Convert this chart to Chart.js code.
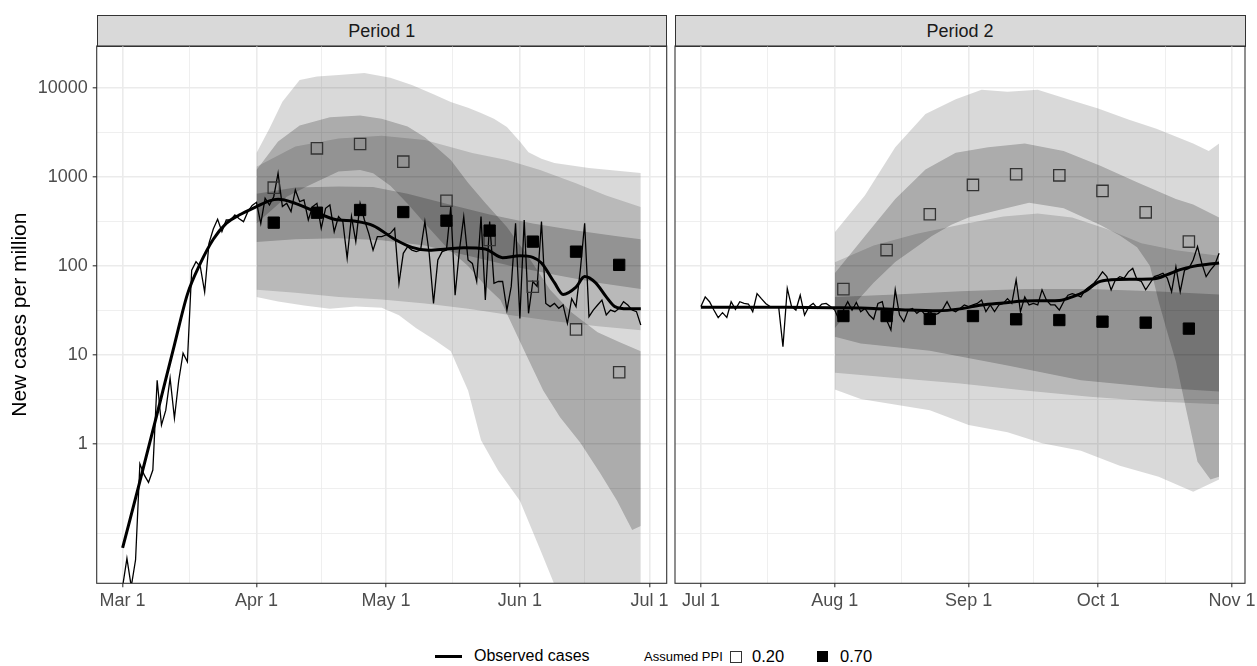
<!DOCTYPE html>
<html>
<head>
<meta charset="utf-8">
<script src="https://cdn.jsdelivr.net/npm/chart.js"></script>
<style>
  body { margin: 0; background: #fff; font-family: "Liberation Sans", Arial, sans-serif; }
  #wrap { position: relative; width: 1257px; height: 666px; overflow: hidden; background: #fff; }
  canvas { position: absolute; top: 0; }
  .strip { position: absolute; top: 15px; height: 32px; box-sizing: border-box; background: #D9D9D9;
           border: 1.1px solid #333; color: #1A1A1A; font-size: 18px; text-align: center; line-height: 30px; }
  .lg { position: absolute; white-space: nowrap; color: #000; }
</style>
</head>
<body>
<div id="wrap">
  <div class="strip" style="left:96.5px;width:570.7px">Period 1</div>
  <div class="strip" style="left:674.5px;width:571px">Period 2</div>
  <canvas id="c1" width="672" height="630" style="left:0"></canvas>
  <canvas id="c2" width="585" height="630" style="left:672px"></canvas>

  <div class="lg" style="left:435px;top:655px;width:27px;height:3px;background:#000"></div>
  <div class="lg" style="left:474px;top:647px;font-size:16px">Observed cases</div>
  <div class="lg" style="left:644px;top:649px;font-size:13px">Assumed PPI</div>
  <div class="lg" style="left:730px;top:651px;width:10px;height:10px;border:1.3px solid #333"></div>
  <div class="lg" style="left:752px;top:647px;font-size:16.5px">0.20</div>
  <div class="lg" style="left:817px;top:651px;width:11px;height:11px;background:#000"></div>
  <div class="lg" style="left:840px;top:647px;font-size:16.5px">0.70</div>
</div>

<script>
// log axis
const yMin = Math.pow(10, -1.565);
const yMax = Math.pow(10, 4.472);
const yMajor = [1, 10, 100, 1000, 10000];
const yMinor = [0.1, Math.pow(10, -0.5), Math.pow(10, 0.5), Math.pow(10, 1.5), Math.pow(10, 2.5), Math.pow(10, 3.5)];

// Period 1: day 0 = Mar 1
const p1Ticks = [0, 31, 61, 92, 122];
const p1TickLabels = ["Mar 1", "Apr 1", "May 1", "Jun 1", "Jul 1"];
const p1Minor = [15.5, 46, 76.5, 107];

const p1Observed = [0.025, 0.052, 0.025, 0.05, 0.6, 0.45, 0.37, 0.51, 5.2, 1.63,
  2.4, 5.5, 1.95, 5.2, 10.5, 8.4, 90, 112, 98, 51,
  180, 260, 335, 243, 329, 329, 374, 340, 315, 408,
  480, 520, 300, 576, 485, 601, 1101, 465, 506, 408,
  715, 529, 552, 329, 465, 506, 265, 445, 485, 243,
  359, 316, 122, 359, 188, 506, 329, 233, 151, 214,
  214, 223, 233, 265, 64, 139, 165, 151, 145, 151,
  316, 139, 38, 117, 145, 151, 465, 47, 151, 359,
  117, 107, 67, 359, 41.5, 316, 64, 67, 67, 32,
  59, 302, 25.8, 329, 29.4, 67, 59, 316, 38, 35,
  38, 33.5, 36.5, 22.7, 43, 35, 90, 302, 27, 32,
  36.5, 41.5, 28.2, 32, 30.7, 33.5, 39.8, 36.5, 32, 30.7, 21.7];

const p1SmoothDays = [0, 4, 8, 12, 15, 18, 21, 24, 27, 31, 34, 36, 40, 44, 49, 54, 58, 63, 67, 71, 75, 79, 84, 88, 92, 95, 97, 100, 102, 105, 107, 109.5, 112, 114, 117, 120];
const p1Smooth = [0.068, 0.38, 2.2, 13, 48, 107, 200, 302, 374, 465, 540, 561, 506, 420, 335, 318, 285, 200, 162, 150, 155, 160, 155, 124, 130, 125, 108, 65, 48, 58, 76, 65, 45, 35, 33, 33];

const p1PointDays = [35, 45, 55, 65, 75, 85, 95, 105, 115];
const p1Ppi20 = [759, 2100, 2350, 1487, 542, 196, 58.5, 19.4, 6.4];
const p1Ppi70 = [307, 397, 426, 404, 323, 250, 188, 145, 103];

const p1Out20Hi = [[31,1860],[34,3500],[37,7000],[41,12300],[45,13500],[50,14000],[56,14700],[62,13000],[67,10800],[72,8500],[76,6960],[80,6000],[83,5240],[86,4500],[89,3650],[92,2500],[94,1900],[97,1600],[100,1435],[104,1350],[108,1260],[114,1180],[120,1110]];
const p1Out20Lo = [[31,45],[36,40],[42,36],[48,33],[54,35],[60,34],[64,28],[68,20],[72,15],[76,11],[80,4],[83,1.1],[87,0.5],[92,0.23],[97,0.06],[101,0.02],[120,0.005]];
const p1In20Hi = [[31,1200],[36,2500],[41,3800],[48,4700],[55,4900],[60,4500],[66,3700],[70,2800],[76,1550],[80,860],[84,510],[89,275],[94,126],[99,54],[104,30],[110,18],[115,14],[120,11]];
const p1In20Lo = [[31,300],[38,600],[43,800],[50,1150],[55,1200],[58,1100],[62,800],[66,500],[70,300],[75,163],[80,100],[84,60],[87.5,41.5],[93.7,9.5],[97.4,4.0],[101.3,2.0],[106,1.03],[110.6,0.47],[114.5,0.23],[118,0.108],[120,0.12]];
const p1Out70Hi = [[31,1300],[40,2200],[50,2700],[60,2900],[70,2600],[81,1860],[89,1550],[96.7,1200],[105,850],[112,620],[120,460]];
const p1Out70Lo = [[31,54],[40,50],[50,45],[60,42],[70,38],[80,33],[90,28],[100,24],[110,21],[120,19]];
const p1In70Hi = [[31,650],[40,760],[50,780],[58,770],[66,650],[75,500],[85,380],[95,300],[105,250],[115,215],[120,200]];
const p1In70Lo = [[31,186],[40,200],[50,205],[60,195],[70,170],[80,130],[90,100],[100,80],[110,65],[120,55]];

// Period 2: day 0 = Jul 1
const p2Ticks = [0, 31, 62, 92, 123];
const p2TickLabels = ["Jul 1", "Aug 1", "Sep 1", "Oct 1", "Nov 1"];
const p2Minor = [15.5, 46.5, 77, 107.5];

const p2Observed = [35, 45, 39.7, 32, 26.3, 29.9, 26.5, 39.7, 32.6, 39.7,
  38, 37.4, 30.7, 49, 43, 38, 35, 35, 35, 12.4,
  56, 35, 32, 47, 28.1, 35, 38, 33.4, 37.4, 38,
  35, 32, 24.7, 32, 39.7, 32, 39, 30.7, 33.4, 28.1,
  25.2, 38, 39.7, 24.7, 19.1, 54, 28.1, 23.7, 32, 33.4,
  29.4, 32, 28.1, 30.7, 28.1, 29.4, 32.6, 39.7, 32, 30.7,
  33.4, 36.5, 35, 36.5, 38, 41.5, 30.7, 36.5, 30.7, 36.5,
  38, 43, 38, 70, 30.7, 45, 36.5, 38, 36.5, 54,
  41.5, 36.5, 36.5, 32, 39.7, 47, 49, 47, 45, 54,
  59, 64, 73, 86, 76, 54, 70, 76, 73, 86,
  94, 70, 67, 54, 64, 76, 79, 83, 73, 51.5,
  98, 51.5, 90, 94, 117, 165, 107, 76, 90, 103, 139];

const p2SmoothDays = [0, 10, 20, 30, 40, 48, 55, 60, 65, 70, 75, 83, 86, 89, 92, 95, 100, 105, 108, 111, 114, 117, 120];
const p2Smooth = [34.5, 34.5, 34.4, 34, 33.4, 32, 31.4, 33, 36.5, 38.5, 40.5, 41, 45, 52, 66, 70, 71, 72, 80, 91, 99, 104, 108];

const p2PointDays = [33, 43, 53, 63, 73, 83, 93, 103, 113];
const p2Ppi20 = [55, 151, 382, 815, 1075, 1044, 698, 401, 188];
const p2Ppi70 = [27.4, 27.4, 25.4, 27.4, 25.2, 24.7, 23.7, 23.1, 19.8];

const p2Out20Hi = [[31,239],[38,622],[45,2160],[52,5120],[59,7500],[65,9530],[71,9090],[78,9530],[85,7500],[92,5900],[99,4430],[105.5,3490],[114,2380],[117.6,1960],[120,2380]];
const p2Out20Lo = [[31,4.1],[37,3.2],[53,2.4],[62,1.64],[71,1.36],[79,1.02],[88,0.84],[97,0.57],[106,0.43],[114,0.29],[120,0.4]];
const p2In20Hi = [[31,83],[38,217],[45,566],[52,1217],[59,1870],[66.5,2160],[75,2380],[84,1960],[92.5,1340],[101,871],[110,566],[114,490],[120,351]];
const p2In20Lo = [[31,20],[35,35],[40,65],[45,111],[50,165],[53.5,217],[58,290],[62,351],[69,425],[76,514],[84,445],[92.5,289],[97,220],[101,162],[104,100],[106,40],[108,18],[110,8.4],[112.4,2.4],[115,0.63],[118,0.4],[120,0.43]];
const p2Out70Hi = [[31,110],[40,170],[50,230],[60,290],[70,360],[78,390],[86,350],[94,260],[102,180],[110,150],[120,130]];
const p2Out70Lo = [[31,6.3],[45,5.5],[60,4.8],[75,4.0],[90,3.4],[105,3.0],[120,2.8]];
const p2In70Hi = [[31,45],[45,48],[60,52],[75,55],[90,55],[105,52],[120,48]];
const p2In70Lo = [[31,16],[37,13.5],[53,11.2],[71,7.6],[88,5.2],[106,4.3],[120,3.9]];

const OUTER = "rgba(0,0,0,0.15)";
const INNER = "rgba(0,0,0,0.21)";
const FONT = "'Liberation Sans', Arial, sans-serif";
Chart.defaults.font.family = FONT;

function pairs(arr) { return arr.map(p => ({ x: p[0], y: p[1] })); }
function pts(days, vals) { return days.map((d, i) => ({ x: d, y: vals[i] })); }
function daily(vals) { return vals.map((v, i) => ({ x: i, y: v })); }

function ribbon(hi, lo, color) {
  return [
    { data: pairs(hi), fill: "+1", backgroundColor: color, borderColor: "rgba(0,0,0,0)", borderWidth: 0, pointRadius: 0, order: 3 },
    { data: pairs(lo), fill: false, borderColor: "rgba(0,0,0,0)", borderWidth: 0, pointRadius: 0, order: 3 }
  ];
}

function buildDatasets(obs, smDays, sm, ptDays, v20, v70, bands) {
  return [
    { data: pts(ptDays, v70), showLine: false, pointStyle: "rect", pointRadius: 8,
      pointBackgroundColor: "#000", pointBorderColor: "#000", pointBorderWidth: 1, order: 0 },
    { data: pts(ptDays, v20), showLine: false, pointStyle: "rect", pointRadius: 8,
      pointBackgroundColor: "rgba(0,0,0,0)", pointBorderColor: "#333", pointBorderWidth: 1.3, order: 0 },
    { data: pts(smDays, sm), borderColor: "#000", borderWidth: 3, pointRadius: 0,
      cubicInterpolationMode: "monotone", fill: false, order: 1 },
    { data: daily(obs), borderColor: "#000", borderWidth: 1.3, pointRadius: 0, tension: 0, fill: false, order: 2 },
    ...ribbon(bands[0], bands[1], OUTER),
    ...ribbon(bands[2], bands[3], INNER),
    ...ribbon(bands[4], bands[5], OUTER),
    ...ribbon(bands[6], bands[7], INNER)
  ];
}

const panelBorder = {
  id: "panelBorder",
  afterDraw(chart) {
    const { ctx, chartArea: a } = chart;
    ctx.save();
    ctx.strokeStyle = "#333333";
    ctx.lineWidth = 1.1;
    ctx.strokeRect(a.left, a.top, a.right - a.left, a.bottom - a.top);
    ctx.restore();
  }
};

function xAxis(ticks, labels, minor) {
  const all = ticks.concat(minor);
  return {
    type: "linear", min: -6, max: 126, bounds: "data",
    afterBuildTicks: s => { s.ticks = all.map(v => ({ value: v })); },
    afterFit: s => { s.height = 46.7; s.paddingLeft = 0; s.paddingRight = 0; },
    ticks: {
      autoSkip: false, maxRotation: 0, padding: 3, color: "#4D4D4D",
      font: { size: 18 },
      callback: v => { const i = ticks.indexOf(v); return i >= 0 ? labels[i] : ""; }
    },
    grid: {
      color: "#EBEBEB",
      lineWidth: c => ticks.includes(c.tick.value) ? 1.6 : 0.8,
      tickLength: 4,
      tickColor: c => ticks.includes(c.tick.value) ? "#333333" : "rgba(0,0,0,0)",
      tickWidth: 1.1
    },
    border: { display: false }
  };
}

function yAxis(showLabels) {
  const all = yMajor.concat(yMinor);
  return {
    type: "logarithmic", min: yMin, max: yMax, bounds: "data",
    afterBuildTicks: s => { s.ticks = all.map(v => ({ value: v })); },
    afterFit: s => { s.width = showLabels ? 96.7 : 0; },
    ticks: {
      display: showLabels, autoSkip: false, padding: 5, color: "#4D4D4D",
      font: { size: 18 },
      callback: v => yMajor.includes(v) ? String(v) : ""
    },
    title: {
      display: showLabels, text: "New cases per million", color: "#000",
      font: { size: 21 }, padding: { top: 7.5, bottom: 0 }
    },
    grid: {
      color: "#EBEBEB",
      lineWidth: c => yMajor.includes(c.tick.value) ? 1.6 : 0.8,
      drawTicks: showLabels,
      tickLength: 4,
      tickColor: c => yMajor.includes(c.tick.value) ? "#333333" : "rgba(0,0,0,0)",
      tickWidth: 1.1
    },
    border: { display: false }
  };
}

function makeChart(id, datasets, x, y, padding) {
  return new Chart(document.getElementById(id), {
    type: "line",
    data: { datasets: datasets },
    options: {
      responsive: false, animation: false, devicePixelRatio: 1,
      layout: { padding: padding, autoPadding: false },
      plugins: { legend: { display: false }, tooltip: { enabled: false } },
      scales: { x: x, y: y }
    },
    plugins: [panelBorder]
  });
}

makeChart("c1",
  buildDatasets(p1Observed, p1SmoothDays, p1Smooth, p1PointDays, p1Ppi20, p1Ppi70,
    [p1Out20Hi, p1Out20Lo, p1In20Hi, p1In20Lo, p1Out70Hi, p1Out70Lo, p1In70Hi, p1In70Lo]),
  xAxis(p1Ticks, p1TickLabels, p1Minor), yAxis(true),
  { top: 46, left: 0, right: 5.3, bottom: 0 });

makeChart("c2",
  buildDatasets(p2Observed, p2SmoothDays, p2Smooth, p2PointDays, p2Ppi20, p2Ppi70,
    [p2Out20Hi, p2Out20Lo, p2In20Hi, p2In20Lo, p2Out70Hi, p2Out70Lo, p2In70Hi, p2In70Lo]),
  xAxis(p2Ticks, p2TickLabels, p2Minor), yAxis(false),
  { top: 46, left: 3, right: 12, bottom: 0 });
</script>
</body>
</html>
